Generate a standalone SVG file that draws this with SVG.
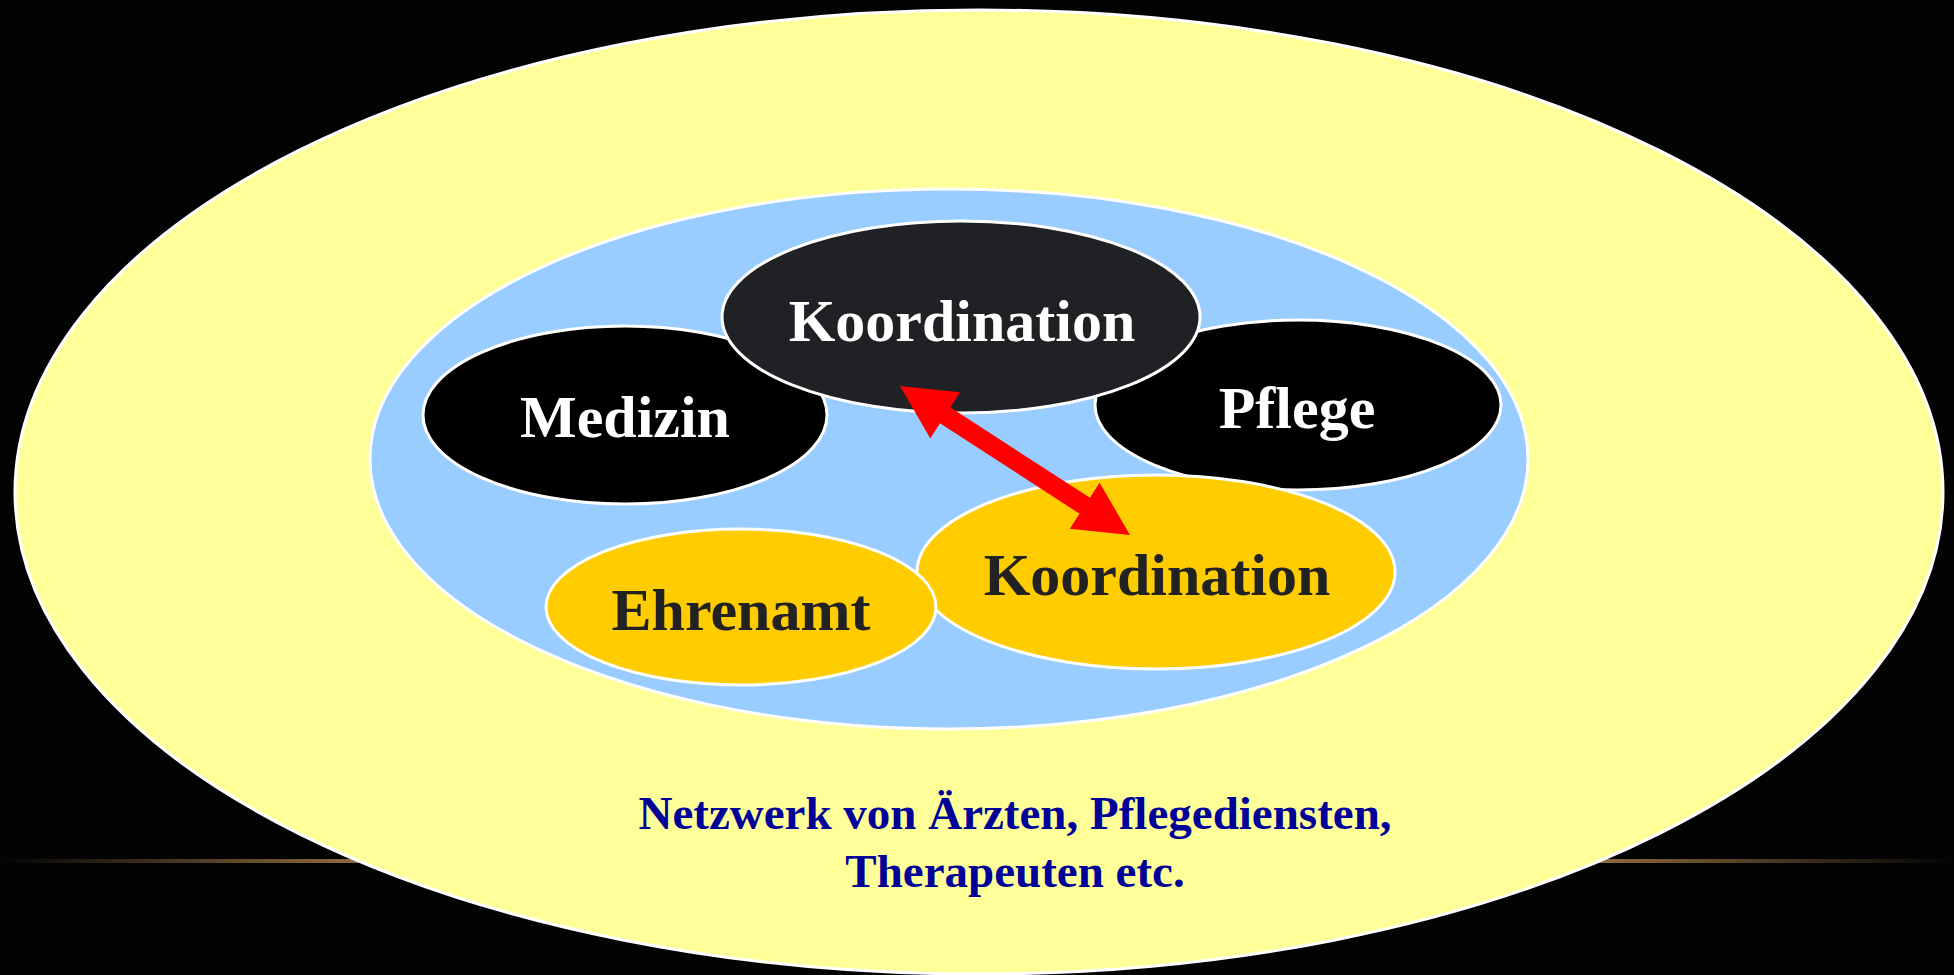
<svg xmlns="http://www.w3.org/2000/svg" width="1954" height="975" viewBox="0 0 1954 975">
<style>
.ring{stroke:#ffffff;stroke-width:3}
.node{stroke:#ffffff;stroke-width:3}
.lbl{font-family:"Liberation Serif","Times New Roman",serif;font-weight:bold;font-size:60px;text-anchor:middle}
.w{fill:#ffffff}
.d{fill:#222222}
.net{font-family:"Liberation Serif","Times New Roman",serif;font-weight:bold;font-size:47px;text-anchor:middle;fill:#000099}
</style>
<defs>
<linearGradient id="glow" x1="0" y1="0" x2="1" y2="0">
<stop offset="0" stop-color="#c8965a" stop-opacity="0"/>
<stop offset="0.18" stop-color="#c8965a" stop-opacity="0.7"/>
<stop offset="0.82" stop-color="#c8965a" stop-opacity="0.7"/>
<stop offset="1" stop-color="#c8965a" stop-opacity="0"/>
</linearGradient>
<marker id="head" markerUnits="userSpaceOnUse" markerWidth="56" markerHeight="56" refX="2" refY="27.5" orient="auto-start-reverse" viewBox="0 0 56 56">
<path d="M0,0 L54,27.5 L0,55 Z" fill="#ff0000"/>
</marker>
</defs>
<rect x="0" y="0" width="1954" height="975" fill="#030303"/>
<rect x="0" y="859" width="1954" height="4" fill="url(#glow)"/>
<g id="network">
<ellipse class="ring" cx="979" cy="492" rx="964" ry="482" fill="#ffff99"/>
<text class="net" x="1015" y="829">Netzwerk von Ärzten, Pflegediensten,</text>
<text class="net" x="1015" y="887">Therapeuten etc.</text>
</g>
<g id="team">
<ellipse class="ring" cx="949" cy="459" rx="579" ry="270" fill="#99ccff"/>
</g>
<g id="medizin">
<ellipse class="node" cx="625" cy="415" rx="202" ry="89" fill="#000000"/>
<text class="lbl w" x="625" y="437">Medizin</text>
</g>
<g id="pflege">
<ellipse class="node" cx="1298" cy="405" rx="203" ry="85" fill="#000000"/>
<text class="lbl w" x="1297" y="428">Pflege</text>
</g>
<g id="koordination-top">
<ellipse class="node" cx="961" cy="317" rx="239" ry="96" fill="#202124"/>
<text class="lbl w" x="962" y="341">Koordination</text>
</g>
<g id="koordination-bottom">
<ellipse class="node" cx="1156" cy="572" rx="239" ry="97" fill="#ffcc00"/>
<text class="lbl d" x="1157" y="595">Koordination</text>
</g>
<g id="ehrenamt">
<ellipse class="node" cx="741" cy="607" rx="195" ry="78" fill="#ffcc00"/>
<text class="lbl d" x="741" y="630">Ehrenamt</text>
</g>
<g id="connectors">
<line x1="943.6" y1="414.3" x2="1086.3" y2="506.8" stroke="#ff0000" stroke-width="19" marker-start="url(#head)" marker-end="url(#head)"/>
</g>
</svg>
